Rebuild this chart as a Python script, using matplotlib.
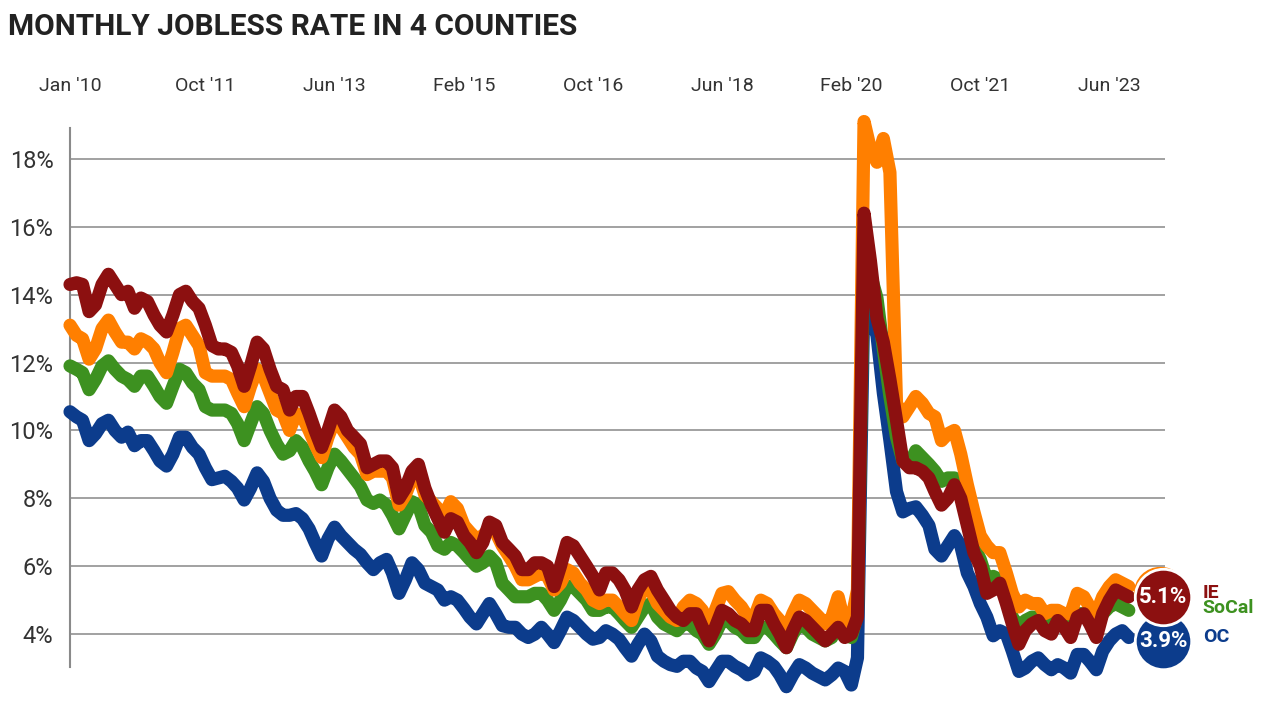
import matplotlib
matplotlib.use("Agg")
import matplotlib.pyplot as plt
import matplotlib.dates as mdates
import pandas as pd

# monthly jobless rate (%), Jan 2010 - Sep 2023
months = pd.date_range("2010-01-01", periods=165, freq="MS")

ie = [14.3, 14.35, 14.3, 13.5, 13.7, 14.3, 14.6, 14.3, 14.0, 14.1, 13.6, 13.9,
      13.8, 13.4, 13.1, 12.9, 13.4, 14.0, 14.1, 13.8, 13.6, 13.1, 12.5, 12.4,
      12.4, 12.3, 11.9, 11.3, 11.9, 12.6, 12.4, 11.8, 11.3, 11.2, 10.6, 11.0,
      11.0, 10.5, 10.0, 9.5, 10.0, 10.6, 10.4, 10.0, 9.8, 9.6, 8.9, 9.0,
      9.1, 9.1, 8.9, 8.0, 8.3, 8.8, 9.0, 8.3, 7.8, 7.4, 7.0, 7.4,
      7.3, 6.9, 6.7, 6.4, 6.7, 7.3, 7.2, 6.7, 6.5, 6.3, 5.9, 5.9,
      6.1, 6.1, 6.0, 5.4, 6.0, 6.7, 6.6, 6.3, 6.0, 5.7, 5.3, 5.8,
      5.8, 5.6, 5.3, 4.8, 5.3, 5.6, 5.7, 5.3, 5.0, 4.7, 4.5, 4.4,
      4.6, 4.6, 4.2, 3.8, 4.2, 4.7, 4.6, 4.4, 4.3, 4.1, 4.1, 4.7,
      4.7, 4.3, 4.0, 3.6, 4.1, 4.5, 4.4, 4.2, 4.0, 3.8, 4.0, 4.2,
      3.9, 4.0, 4.5, 16.4, 15.0, 13.3, 12.6, 11.5, 10.3, 9.1, 8.9, 8.9,
      8.8, 8.6, 8.2, 7.8, 8.0, 8.4, 8.0, 7.2, 6.4, 6.0, 5.2, 5.3,
      5.5, 4.9, 4.3, 3.7, 4.1, 4.3, 4.4, 4.1, 4.0, 4.4, 4.2, 3.9,
      4.5, 4.6, 4.3, 3.9, 4.6, 5.0, 5.3, 5.2, 5.1]

la = [13.1, 12.8, 12.7, 12.1, 12.4, 13.0, 13.25, 12.9, 12.6, 12.6, 12.4, 12.7,
      12.6, 12.4, 12.0, 11.7, 12.3, 13.0, 13.1, 12.8, 12.5, 11.7, 11.6, 11.6,
      11.6, 11.5, 11.1, 10.7, 11.3, 11.8, 11.6, 11.1, 10.6, 10.5, 10.0, 10.5,
      10.4, 10.0, 9.6, 9.2, 9.8, 10.3, 10.1, 9.8, 9.5, 9.3, 8.7, 8.8,
      8.8, 8.8, 8.6, 7.8, 8.1, 8.6, 8.7, 8.1, 7.9, 7.7, 7.5, 7.9,
      7.7, 7.2, 7.0, 6.8, 6.9, 7.1, 7.0, 6.6, 6.3, 6.0, 5.6, 5.6,
      5.7, 5.8, 5.7, 5.3, 5.5, 5.9, 5.8, 5.5, 5.3, 5.0, 4.9, 5.0,
      5.0, 4.8, 4.6, 4.4, 5.0, 5.4, 5.3, 4.9, 4.7, 4.5, 4.4, 4.8,
      5.0, 4.9, 4.7, 4.2, 4.7, 5.2, 5.25, 5.0, 4.8, 4.5, 4.5, 5.0,
      4.9, 4.6, 4.4, 4.1, 4.6, 5.0, 4.9, 4.7, 4.5, 4.3, 4.5, 5.1,
      4.3, 4.4, 5.3, 19.1, 18.3, 17.9, 18.6, 17.6, 10.8, 10.4, 10.7, 11.0,
      10.8, 10.5, 10.4, 9.7, 9.9, 10.0, 9.3, 8.4, 7.6, 6.9, 6.6, 6.4,
      6.4, 5.8, 5.2, 4.8, 5.0, 4.9, 4.9, 4.6, 4.7, 4.7, 4.6, 4.6,
      5.2, 5.1, 4.8, 4.6, 5.1, 5.4, 5.6, 5.5, 5.4]

socal = [11.9, 11.8, 11.7, 11.2, 11.5, 11.9, 12.05, 11.8, 11.6, 11.5, 11.3, 11.6,
         11.6, 11.3, 11.0, 10.8, 11.3, 11.8, 11.7, 11.4, 11.2, 10.7, 10.6, 10.6,
         10.6, 10.5, 10.2, 9.7, 10.2, 10.7, 10.5, 10.0, 9.6, 9.3, 9.4, 9.7,
         9.5, 9.1, 8.8, 8.4, 8.9, 9.3, 9.1, 8.85, 8.6, 8.35, 7.95, 7.85,
         7.95, 7.8, 7.5, 7.1, 7.5, 7.9, 7.8, 7.2, 7.0, 6.6, 6.5, 6.7,
         6.6, 6.4, 6.2, 6.0, 6.1, 6.3, 6.1, 5.5, 5.3, 5.1, 5.1, 5.1,
         5.2, 5.2, 5.0, 4.7, 5.0, 5.4, 5.4, 5.2, 5.0, 4.7, 4.7, 4.8,
         4.8, 4.6, 4.4, 4.2, 4.5, 4.8, 4.9, 4.5, 4.3, 4.2, 4.1, 4.3,
         4.3, 4.1, 4.0, 3.7, 4.0, 4.4, 4.4, 4.2, 4.1, 3.9, 3.9, 4.2,
         4.2, 4.0, 3.8, 3.6, 4.0, 4.3, 4.2, 4.0, 3.9, 3.8, 3.9, 4.4,
         4.0, 3.9, 4.6, 15.6, 14.6, 13.9, 12.4, 11.0, 9.8, 9.1, 9.0, 9.4,
         9.2, 9.0, 8.8, 8.5, 8.6, 8.6, 8.1, 7.3, 6.6, 6.2, 5.6, 5.7,
         5.6, 5.0, 4.5, 4.2, 4.4, 4.5, 4.5, 4.3, 4.3, 4.5, 4.4, 4.2,
         4.6, 4.6, 4.4, 4.2, 4.6, 4.8, 4.9, 4.8, 4.7]

oc = [10.55, 10.4, 10.3, 9.7, 9.9, 10.2, 10.3, 10.0, 9.8, 9.95, 9.55, 9.7,
      9.7, 9.4, 9.1, 8.95, 9.3, 9.8, 9.8, 9.5, 9.3, 8.9, 8.55, 8.6,
      8.65, 8.5, 8.3, 7.95, 8.3, 8.75, 8.5, 8.0, 7.65, 7.5, 7.5, 7.55,
      7.4, 7.1, 6.7, 6.3, 6.8, 7.15, 6.9, 6.7, 6.5, 6.35, 6.1, 5.9,
      6.1, 6.2, 5.8, 5.2, 5.6, 6.1, 5.9, 5.5, 5.4, 5.3, 5.0, 5.1,
      5.0, 4.75, 4.5, 4.3, 4.6, 4.9, 4.6, 4.25, 4.2, 4.2, 4.0, 3.9,
      4.0, 4.2, 4.0, 3.75, 4.1, 4.5, 4.4, 4.2, 4.0, 3.85, 3.9, 4.1,
      4.0, 3.85, 3.6, 3.35, 3.7, 4.0, 3.8, 3.35, 3.2, 3.1, 3.05, 3.2,
      3.2, 3.0, 2.9, 2.6, 2.9, 3.2, 3.2, 3.05, 2.95, 2.8, 2.9, 3.3,
      3.2, 3.05, 2.8, 2.45, 2.8, 3.1, 3.0, 2.85, 2.75, 2.65, 2.8, 3.0,
      2.9, 2.5, 3.3, 14.2, 13.4, 12.8, 11.1, 9.7, 8.2, 7.6, 7.7, 7.75,
      7.5, 7.2, 6.5, 6.3, 6.6, 6.9, 6.6, 5.8, 5.4, 4.9, 4.5, 3.95,
      4.1, 4.0, 3.5, 2.9, 3.0, 3.2, 3.3, 3.1, 2.95, 3.1, 3.0, 2.85,
      3.4, 3.4, 3.2, 2.95, 3.5, 3.8, 4.0, 4.1, 3.9]

tick_dates = ["2010-01", "2011-10", "2013-06", "2015-02", "2016-10",
              "2018-06", "2020-02", "2021-10", "2023-06"]

c_la = "#ff7f00"
c_socal = "#3d9120"
c_ie = "#8c1010"
c_oc = "#0c3c8c"

plt.rcParams["font.family"] = "Roboto"

fig = plt.figure(figsize=(12.8, 7.17), dpi=100)
ax = fig.add_axes([0.0547, 0.0697, 0.8555, 0.7518])

lw = 9.5
for vals, col in [(oc, c_oc), (socal, c_socal), (la, c_la), (ie, c_ie)]:
    ax.plot(months, vals, color=col, lw=lw, solid_capstyle="round",
            solid_joinstyle="round", zorder=3, clip_on=False)

ax.set_ylim(3.03, 18.91)
ax.set_xlim(pd.Timestamp("2010-01-01"), pd.Timestamp("2024-02-19"))
ax.set_yticks([4, 6, 8, 10, 12, 14, 16, 18])
ax.set_yticklabels([f"{v}%" for v in [4, 6, 8, 10, 12, 14, 16, 18]])
ax.grid(axis="y", color="#9a9a9a", lw=1.3, zorder=1)

ax.set_xticks(pd.to_datetime(tick_dates))
ax.xaxis.set_major_formatter(mdates.DateFormatter("%b '%y"))
ax.tick_params(axis="x", top=True, labeltop=True, bottom=False,
               labelbottom=False, length=0, pad=24, labelsize=14,
               labelcolor="#333333")
ax.tick_params(axis="y", length=0, pad=12, labelsize=17, labelcolor="#333333")

for s in ["top", "right", "bottom"]:
    ax.spines[s].set_visible(False)
ax.spines["left"].set_color("#8a8a8a")
ax.spines["left"].set_linewidth(1.5)

# end labels (LA bubble mostly hidden behind IE)
xend = pd.Timestamp("2024-02-10")
ax.scatter([pd.Timestamp("2024-01-25")], [ie[-1] + 0.12], s=1400, color=c_la,
           zorder=5, clip_on=False)
ax.scatter([xend], [oc[-1] - 0.1], s=1650, color=c_oc, edgecolor="white",
           linewidth=2, zorder=6, clip_on=False)
ax.scatter([xend], [ie[-1]], s=1650, color=c_ie, edgecolor="white",
           linewidth=2, zorder=7, clip_on=False)
ax.text(xend, oc[-1] - 0.1, f"{oc[-1]:.1f}%", color="white",
        ha="center", va="center", fontsize=16, fontweight="bold", zorder=8)
ax.text(xend, ie[-1], f"{ie[-1]:.1f}%", color="white", ha="center",
        va="center", fontsize=16, fontweight="bold", zorder=8)

xlab = pd.Timestamp("2024-08-15")
ax.text(xlab, socal[-1] + 0.08, "SoCal", color=c_socal, fontsize=14,
        fontweight="bold", va="center", zorder=8, clip_on=False)
ax.text(xlab, ie[-1] + 0.12, "IE", color=c_ie, fontsize=14, fontweight="bold",
        va="center", zorder=9, clip_on=False)
ax.text(xlab, oc[-1], "OC", color=c_oc, fontsize=14, fontweight="bold",
        va="center", zorder=8, clip_on=False)

fig.text(0.006, 0.962, "MONTHLY JOBLESS RATE IN 4 COUNTIES", fontsize=21.5,
         fontweight="bold", color="#222222", va="center", ha="left")

fig.savefig("out.png", dpi=100, facecolor="white")
